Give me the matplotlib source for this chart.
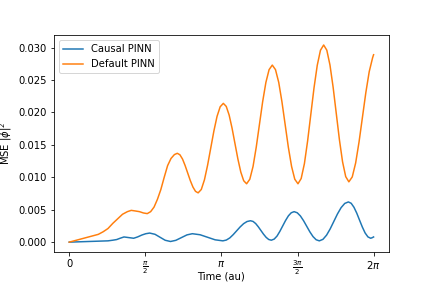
import numpy as np
import matplotlib
matplotlib.use("Agg")
import matplotlib.pyplot as plt

# Causal PINN (time, MSE)
t_causal = [0.00, 0.20, 0.40, 0.60, 0.80, 0.90, 0.98, 1.05, 1.13, 1.23, 1.33, 1.41, 1.50, 1.58, 1.66,
            1.77, 1.875, 1.98, 2.09,
            2.20, 2.315, 2.43, 2.54,
            2.70, 2.855, 3.01, 3.17,
            3.241, 3.313, 3.384, 3.455, 3.526, 3.598, 3.669, 3.74,
            3.794, 3.848, 3.901, 3.955, 4.009, 4.063, 4.116, 4.17,
            4.229, 4.288, 4.346, 4.405, 4.464, 4.523, 4.581, 4.64,
            4.705, 4.77, 4.835, 4.90, 4.965, 5.03, 5.095, 5.16,
            5.235, 5.31, 5.385, 5.46, 5.535, 5.61, 5.685, 5.76,
            5.818, 5.875, 5.933, 5.99, 6.048, 6.105, 6.163, 6.22,
            6.25, 6.28]
mse_causal = [0.0000, 0.00005, 0.0001, 0.00015, 0.0002, 0.0003, 0.0004, 0.0006, 0.0008, 0.0007, 0.0006,
              0.0008, 0.0011, 0.0013, 0.0014,
              0.00121, 0.00075, 0.00029, 0.0001,
              0.00028, 0.0007, 0.00112, 0.0013,
              0.00114, 0.00075, 0.00036, 0.0002,
              0.00032, 0.00065, 0.00116, 0.00175, 0.00234, 0.00285, 0.00318, 0.0033,
              0.00319, 0.00286, 0.00237, 0.0018, 0.00123, 0.00074, 0.00041, 0.0003,
              0.00047, 0.00094, 0.00166, 0.0025, 0.00334, 0.00406, 0.00453, 0.0047,
              0.00453, 0.00404, 0.00331, 0.00245, 0.00159, 0.00086, 0.00037, 0.0002,
              0.00043, 0.00108, 0.00205, 0.0032, 0.00435, 0.00532, 0.00597, 0.0062,
              0.00599, 0.00538, 0.00447, 0.0034, 0.00233, 0.00142, 0.00081, 0.0006,
              0.00068, 0.0008]

# Default PINN (time, MSE)
t_default = [0.0, 0.1, 0.2, 0.3, 0.4, 0.5, 0.6, 0.7, 0.8, 0.9, 1.0, 1.1, 1.2, 1.28, 1.37, 1.45, 1.53,
             1.61, 1.68, 1.75, 1.82, 1.89, 1.96, 2.03, 2.10, 2.17, 2.23,
             2.284, 2.338, 2.391, 2.445, 2.499, 2.553, 2.606, 2.66,
             2.725, 2.79, 2.855, 2.92, 2.985, 3.05, 3.115, 3.18,
             3.24, 3.30, 3.36, 3.42, 3.48, 3.54, 3.60, 3.66,
             3.726, 3.793, 3.859, 3.925, 3.991, 4.058, 4.124, 4.19,
             4.256, 4.323, 4.389, 4.455, 4.521, 4.588, 4.654, 4.72,
             4.786, 4.853, 4.919, 4.985, 5.051, 5.118, 5.184, 5.25,
             5.315, 5.38, 5.445, 5.51, 5.575, 5.64, 5.705, 5.77,
             5.84, 5.91, 5.98, 6.05, 6.12, 6.19, 6.26, 6.28]
mse_default = [0.0, 0.0002, 0.0004, 0.0006, 0.0008, 0.0010, 0.0012, 0.0016, 0.0021, 0.0029, 0.0036,
               0.0043, 0.0047, 0.0049, 0.0048, 0.0047, 0.0045, 0.0044, 0.0047, 0.0054, 0.0066,
               0.0081, 0.0100, 0.0118, 0.0129, 0.0135, 0.0137,
               0.01347, 0.01281, 0.01182, 0.01065, 0.00948, 0.00849, 0.00783, 0.0076,
               0.00812, 0.00961, 0.01186, 0.0145, 0.01714, 0.01939, 0.02088, 0.0214,
               0.02093, 0.01959, 0.01757, 0.0152, 0.01283, 0.01081, 0.00947, 0.0090,
               0.00970, 0.01167, 0.01465, 0.01815, 0.02165, 0.02463, 0.02660, 0.0273,
               0.0266, 0.02463, 0.02165, 0.01815, 0.01465, 0.01167, 0.00970, 0.0090,
               0.00981, 0.01212, 0.01561, 0.0197, 0.02379, 0.02728, 0.02959, 0.0304,
               0.0296, 0.02732, 0.0239, 0.01985, 0.0158, 0.01238, 0.0101, 0.0093,
               0.01006, 0.01221, 0.01545, 0.01925, 0.02305, 0.02629, 0.02844, 0.0289]

tick_pos = [0, np.pi / 2, np.pi, 3 * np.pi / 2, 2 * np.pi]
tick_labels = ['0', r'$\frac{\pi}{2}$', r'$\pi$', r'$\frac{3\pi}{2}$', r'$2\pi$']

fig = plt.figure(figsize=(6, 4), dpi=72)
ax = fig.add_axes([0.125, 0.125, 0.775, 0.753])
ax.plot(t_causal, mse_causal, label='Causal PINN')
ax.plot(t_default, mse_default, label='Default PINN')
ax.set_xticks(tick_pos)
ax.set_xticklabels(tick_labels)
ax.set_xlabel('Time (au)')
ax.xaxis.set_label_coords(0.5, -0.09)
ax.set_ylabel(r'MSE $|\phi|^2$')
ax.legend(loc='upper left')
fig.savefig('out.png', dpi=72)
